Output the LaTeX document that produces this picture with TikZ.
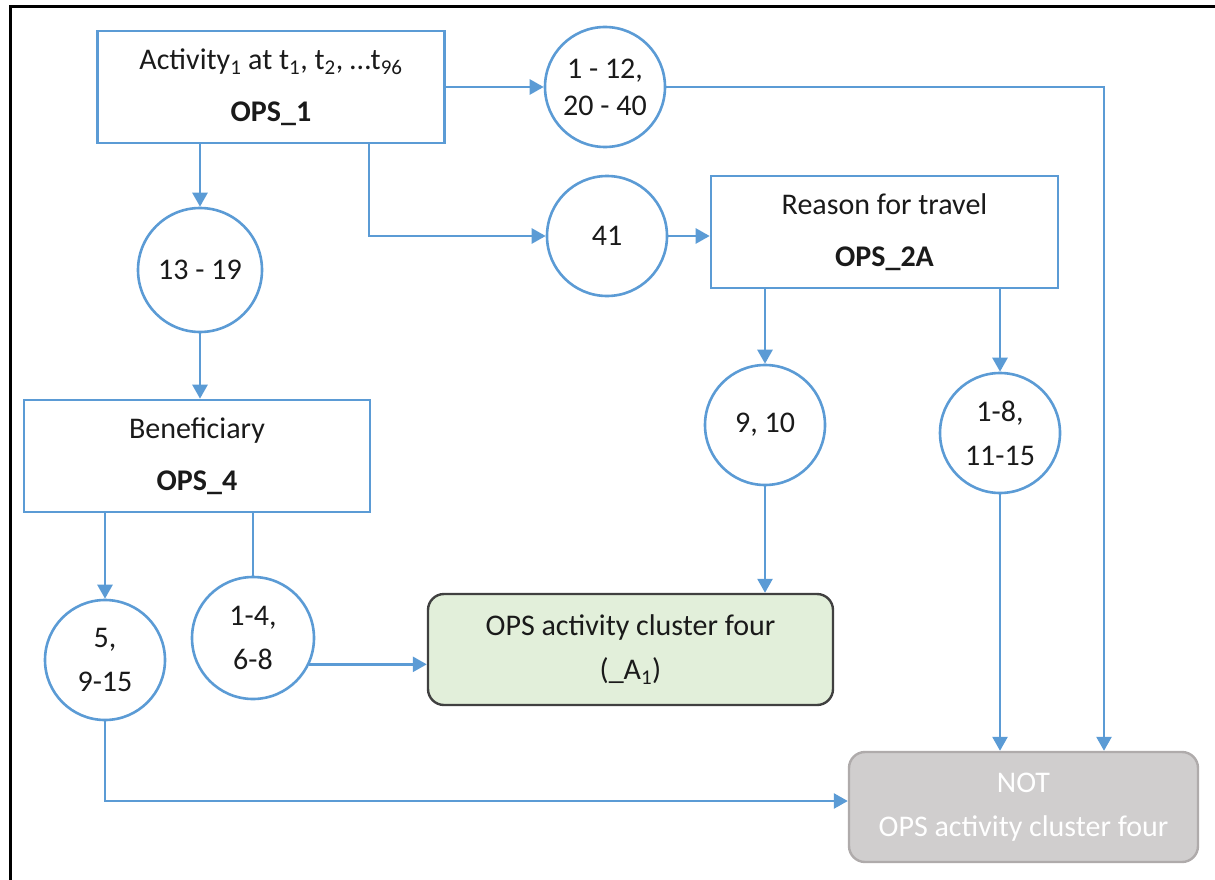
\documentclass[tikz,border=0pt]{standalone}
\usepackage{fontspec}
\setmainfont{Carlito}
\usetikzlibrary{arrows.meta,calc}
\definecolor{lblue}{HTML}{5B9BD5}
\definecolor{gfill}{HTML}{E2EFDA}
\definecolor{gdraw}{HTML}{404040}
\definecolor{nfill}{HTML}{D0CECE}
\definecolor{ndraw}{HTML}{AFABAB}
\definecolor{txt}{HTML}{1A1A1A}
\tikzset{
  every node/.style={font=\fontsize{30}{44}\selectfont, text=txt},
  box/.style={draw=lblue, line width=2.6pt, fill=white, minimum width=347pt, minimum height=112pt, align=center, inner sep=0pt},
  circ/.style={circle, draw=lblue, line width=2.6pt, fill=white, minimum size=120pt, align=center, inner sep=0pt},
  conn/.style={draw=lblue, line width=2.6pt, -{Triangle[length=14pt,width=15pt]}},
  plain/.style={draw=lblue, line width=2.6pt},
  result/.style={rounded corners=16pt, line width=2.4pt, minimum width=405pt, minimum height=111pt, align=center, inner sep=0pt}
}
\begin{document}
\begin{tikzpicture}[x=1pt,y=-1pt]
\useasboundingbox (0,0) rectangle (1215,880);
\draw[line width=3pt, black] (10,881) -- (10,7) -- (1216,7);

% nodes
\node[box] (ops1) at (271,87) {Activity\textsubscript{1} at t\textsubscript{1}, t\textsubscript{2}, …t\textsubscript{96}\\[8pt]\textbf{OPS\_1}};
\node[circ] (c1) at (605,87) {1 - 12,\\[-7pt]20 - 40};
\node[circ] (c41) at (607,236) {41};
\node[box] (ops2a) at (884.5,232) {Reason for travel\\[8pt]\textbf{OPS\_2A}};
\node[circ, minimum size=124pt] (c13) at (200,270) {13 - 19};
\node[box, minimum width=346pt] (ops4) at (197,456) {Beneficiary\\[8pt]\textbf{OPS\_4}};
\node[circ] (c5) at (105,660) {5,\\9-15};
\node[circ, minimum size=122pt] (c14) at (253,638) {1-4,\\6-8};
\node[result, draw=gdraw, fill=gfill] (green) at (630.5,649.5) {OPS activity cluster four\\(\_A\textsubscript{1})};
\node[circ] (c910) at (765,425) {9, 10};
\node[circ] (c18) at (1000,433) {1-8,\\11-15};
\node[result, draw=ndraw, fill=nfill, text=white, minimum width=349pt, minimum height=110pt] (notbox) at (1023.5,807) {NOT\\OPS activity cluster four};

% connectors
\draw[conn] (ops1.east) -- (c1.west);
\draw[conn] (c1.east) -| ([xshift=80.5pt]notbox.north);
\draw[conn] ([xshift=98pt]ops1.south) |- (c41.west);
\draw[conn] (c41.east) -- (c41.east -| ops2a.west);
\draw[conn] (ops1.south -| c13.north) -- (c13.north);
\draw[conn] (c13.south) -- (c13.south |- ops4.north);
\draw[conn] (ops4.south -| c5.north) -- (c5.north);
\draw[plain] (ops4.south -| c14.north) -- (c14.north);
\draw[conn] (c14.-25) -- (c14.-25 -| green.west);
\draw[conn] (c5.south) |- ([yshift=6pt]notbox.west);
\draw[conn] (ops2a.south -| c910.north) -- (c910.north);
\draw[conn] (c910.south) -- (c910.south |- green.north);
\draw[conn] (ops2a.south -| c18.north) -- (c18.north);
\draw[conn] (c18.south) -- (c18.south |- notbox.north);
\end{tikzpicture}
\end{document}
